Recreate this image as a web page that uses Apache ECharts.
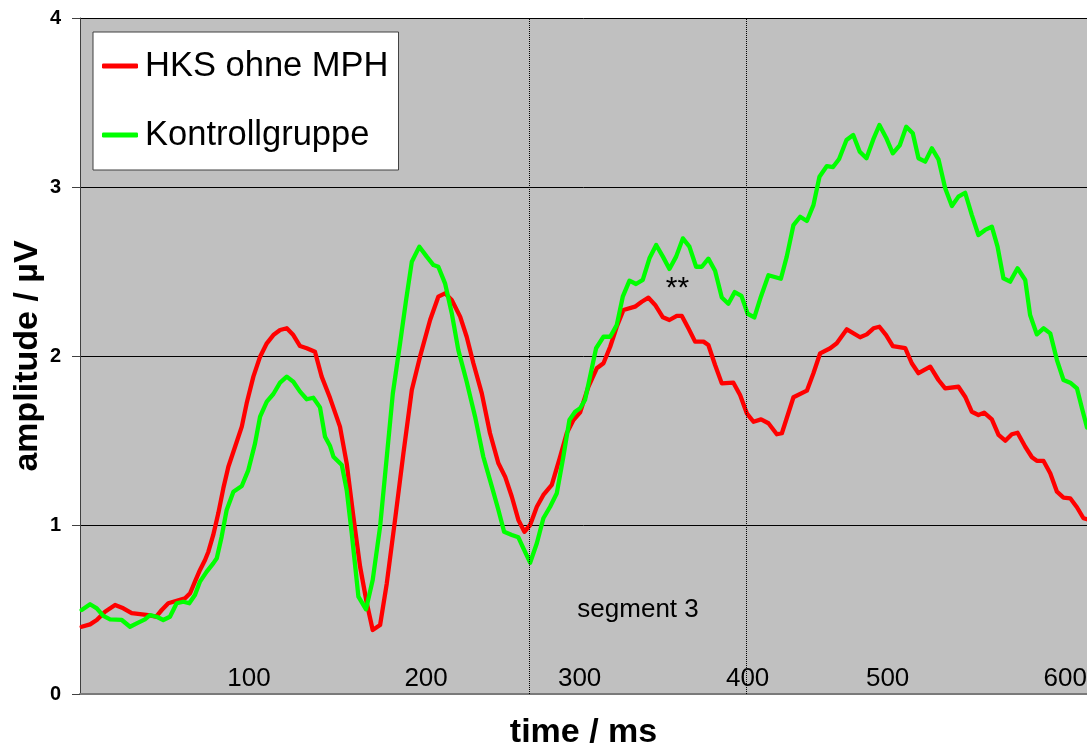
<!DOCTYPE html>
<html>
<head>
<meta charset="utf-8">
<script src="https://cdn.jsdelivr.net/npm/echarts@6/dist/echarts.min.js"></script>
<style>
html,body{margin:0;padding:0;background:#fff;}
#chart{width:1087px;height:749px;}
</style>
</head>
<body>
<div id="chart"></div>
<script>
// time (ms) and amplitude (µV)
var redTime = [1,6,10,14.9,20.9,25.8,30.8,35.8,40.7,45.3,48.7,52.6,57.6,62.6,65.6,68.5,71.5,74.5,76.5,79.4,82.4,85.4,88.4,92.4,96.4,99.3,103.3,107.3,111.3,115.2,119.2,123.2,127.1,131.1,135.1,140,144,149,154.9,158.9,162.9,166.9,170.9,174.4,178.8,182.8,187.7,192.7,197.7,202.6,208.6,213.5,217.5,221.5,226.5,230.4,234.4,239.4,244.3,249.3,253.3,257.3,261.2,264.8,268.2,272.2,276.1,281.1,286.1,290,294,298,302.9,307.9,311.9,315.9,319.8,323.8,330.7,334.7,338.7,342.7,347.3,351.2,355.6,358.6,362.5,366.5,371.5,374.4,378.4,382.4,389.3,393.3,397.3,401.3,405.8,410.2,415.2,418.2,425.1,433.1,437,441,447,450.9,456.9,464.8,468.8,472.8,476.3,480.3,484.3,491.7,495.6,499.6,506.6,511.5,515.5,523.4,527.4,531.4,535.3,538.7,543.3,547.3,551.3,555.2,558.6,563.2,567.2,570.1,574.1,578.1,582.1,586,590,594,597.9,600];
var redAmp = [0.398,0.412,0.438,0.487,0.527,0.507,0.478,0.472,0.467,0.457,0.497,0.537,0.552,0.566,0.596,0.665,0.734,0.793,0.842,0.941,1.069,1.217,1.345,1.463,1.582,1.720,1.878,1.996,2.075,2.124,2.154,2.164,2.124,2.059,2.046,2.025,1.878,1.751,1.582,1.365,1.049,0.753,0.537,0.379,0.408,0.655,1.030,1.424,1.799,1.996,2.213,2.351,2.371,2.331,2.233,2.114,1.957,1.779,1.543,1.365,1.286,1.167,1.030,0.960,1.000,1.108,1.178,1.237,1.404,1.543,1.621,1.666,1.818,1.927,1.957,2.055,2.173,2.272,2.292,2.321,2.345,2.302,2.229,2.213,2.238,2.237,2.164,2.085,2.085,2.065,1.947,1.838,1.842,1.769,1.661,1.611,1.625,1.602,1.537,1.543,1.756,1.795,1.898,2.016,2.046,2.075,2.158,2.111,2.128,2.164,2.173,2.124,2.059,2.046,1.957,1.898,1.937,1.858,1.809,1.818,1.759,1.670,1.651,1.665,1.625,1.533,1.499,1.537,1.546,1.463,1.401,1.380,1.379,1.306,1.197,1.162,1.158,1.105,1.040,1.034];
var greenTime = [1,6,10,13.9,17.9,24.9,29.8,34.7,38.7,41.7,45.7,49.6,53.6,57.6,61.6,65.1,68.5,71.5,75.5,79.4,81.5,84.4,87.4,91.4,96.4,100.3,104.3,107.3,111.3,115.2,119.2,123.2,127.1,131.1,135.1,139,143,146,149,151,156,158.9,161.9,165.9,170.4,174.4,178.8,182.8,186.4,190.7,194.3,197.7,202.2,206.6,210.6,213.5,217.5,221.5,225.4,230.4,235.4,240.3,245.4,249.3,252.7,257.3,261.2,264.2,268.2,272.2,276.1,280.1,284.1,288,291.6,295,298,300.9,303.9,307.5,311.9,315.9,319.8,323.4,327.4,331.3,335.3,339.3,343.3,347.3,351.2,355.2,359.2,363.1,367.1,370.5,374.4,378.4,382.4,386.3,390.1,394.1,397.8,401.8,405.7,410.2,417.6,421.1,425.1,429.1,433.1,437,440.6,445,448.7,452.3,456.7,460.7,464.6,468.6,472.6,476.3,480.3,484.3,488.4,492.3,496.2,499.6,503.6,507.6,511.5,515.5,519.5,523.4,527.4,531.4,535.3,539.3,543.3,546.7,550.2,554.2,558.6,563.2,566.1,570.1,574.1,578.1,582.1,586,590,594,597,600];
var greenAmp = [0.497,0.531,0.507,0.462,0.442,0.438,0.398,0.422,0.442,0.467,0.457,0.438,0.457,0.537,0.546,0.537,0.586,0.665,0.724,0.773,0.803,0.931,1.089,1.197,1.231,1.325,1.483,1.641,1.730,1.775,1.842,1.878,1.848,1.789,1.744,1.753,1.696,1.522,1.467,1.404,1.355,1.207,0.951,0.576,0.501,0.675,0.990,1.404,1.779,2.075,2.331,2.558,2.647,2.588,2.538,2.528,2.430,2.253,2.036,1.848,1.641,1.404,1.227,1.089,0.960,0.941,0.927,0.862,0.777,0.892,1.040,1.108,1.188,1.404,1.621,1.670,1.691,1.740,1.878,2.046,2.114,2.114,2.183,2.351,2.446,2.426,2.450,2.578,2.657,2.588,2.515,2.588,2.696,2.647,2.528,2.528,2.576,2.504,2.346,2.309,2.378,2.356,2.250,2.228,2.351,2.478,2.457,2.588,2.775,2.824,2.799,2.893,3.061,3.124,3.118,3.166,3.278,3.308,3.209,3.170,3.280,3.367,3.292,3.199,3.246,3.357,3.318,3.170,3.150,3.229,3.164,2.992,2.888,2.943,2.966,2.834,2.716,2.746,2.765,2.647,2.460,2.440,2.519,2.450,2.243,2.128,2.164,2.134,1.976,1.858,1.842,1.809,1.691,1.577];

var seriesNames = ['HKS ohne MPH', 'Kontrollgruppe'];
// x tick labels (manually placed text in the original) and their time positions
var tickLabels = ['100', '200', '300', '400', '500', '600'];
var tickTimes = [100.7, 206.2, 297.7, 397.8, 481.2, 587];
// segment boundaries (ms)
var segmentBounds = [267.6, 396.7];

function zip(a, b) { var o = []; for (var i = 0; i < a.length && i < b.length; i++) o.push([a[i], b[i]]); return o; }

var FONT = 'Liberation Sans, Arial, sans-serif';
var chart = echarts.init(document.getElementById('chart'));
chart.setOption({
  animation: false,
  backgroundColor: '#ffffff',
  textStyle: { fontFamily: FONT },
  grid: { left: 80, right: 0, top: 18, bottom: 55, show: true, backgroundColor: '#C0C0C0', borderWidth: 0, containLabel: false, outerBoundsMode: 'none' },
  legend: {
    data: seriesNames,
    orient: 'vertical',
    left: 93, top: 32,
    backgroundColor: '#ffffff',
    borderColor: '#404040', borderWidth: 1,
    padding: [14, 10, 15, 9],
    itemGap: 29,
    itemWidth: 36, itemHeight: 5,
    icon: 'roundRect',
    textStyle: { fontSize: 34.5, color: '#000', fontFamily: FONT, lineHeight: 40, padding: [0, 0, 0, 2] }
  },
  xAxis: {
    type: 'value', min: 0, max: 600,
    name: 'time / ms', nameLocation: 'middle', nameGap: 22, nameMoveOverlap: false,
    nameTextStyle: { fontSize: 34, fontWeight: 'bold', color: '#000', fontFamily: FONT },
    axisLine: { show: true, lineStyle: { color: '#7a7a7a', width: 2 } },
    axisTick: { show: false },
    splitLine: { show: false },
    axisLabel: {
      inside: true, margin: 2, fontSize: 26, color: '#000', fontFamily: FONT,
      customValues: tickTimes,
      formatter: function (v) { var i = tickTimes.indexOf(v); return i >= 0 ? tickLabels[i] : ''; }
    }
  },
  yAxis: {
    type: 'value', min: 0, max: 4, interval: 1,
    name: 'amplitude / µV', nameLocation: 'middle', nameRotate: 90, nameGap: 35, nameMoveOverlap: false,
    nameTextStyle: { fontSize: 34, fontWeight: 'bold', color: '#000', fontFamily: FONT },
    axisLine: { show: true, lineStyle: { color: '#404040', width: 1 } },
    axisTick: { show: true, length: 8, lineStyle: { color: '#404040' } },
    axisLabel: { fontSize: 20, fontWeight: 'bold', color: '#000', margin: 19, fontFamily: FONT },
    splitLine: { show: true, lineStyle: { color: '#000', width: 1 } }
  },
  series: [
    {
      name: seriesNames[0], type: 'line', data: zip(redTime, redAmp),
      showSymbol: false, symbol: 'none', smooth: false,
      itemStyle: { color: '#FF0000' },
      lineStyle: { color: '#FF0000', width: 4.3, join: 'round', cap: 'round' },
      z: 3,
      markLine: {
        silent: true, symbol: 'none', animation: false,
        label: { show: false },
        lineStyle: { type: 'dotted', color: '#000', width: 1 },
        data: segmentBounds.map(function (t) { return { xAxis: t }; })
      }
    },
    {
      name: seriesNames[1], type: 'line', data: zip(greenTime, greenAmp),
      showSymbol: false, symbol: 'none', smooth: false,
      itemStyle: { color: '#00FF00' },
      lineStyle: { color: '#00FF00', width: 4.3, join: 'round', cap: 'round' },
      z: 4,
      markPoint: {
        silent: true, symbolSize: 0, animation: false,
        data: [
          { coord: [332.5, 0.50], label: { show: true, position: 'inside', formatter: 'segment 3', fontSize: 26, color: '#000', fontFamily: FONT } },
          { coord: [356, 2.40], label: { show: true, position: 'inside', formatter: '**', fontSize: 30, color: '#000', fontFamily: FONT } }
        ]
      }
    }
  ]
});
</script>
</body>
</html>
